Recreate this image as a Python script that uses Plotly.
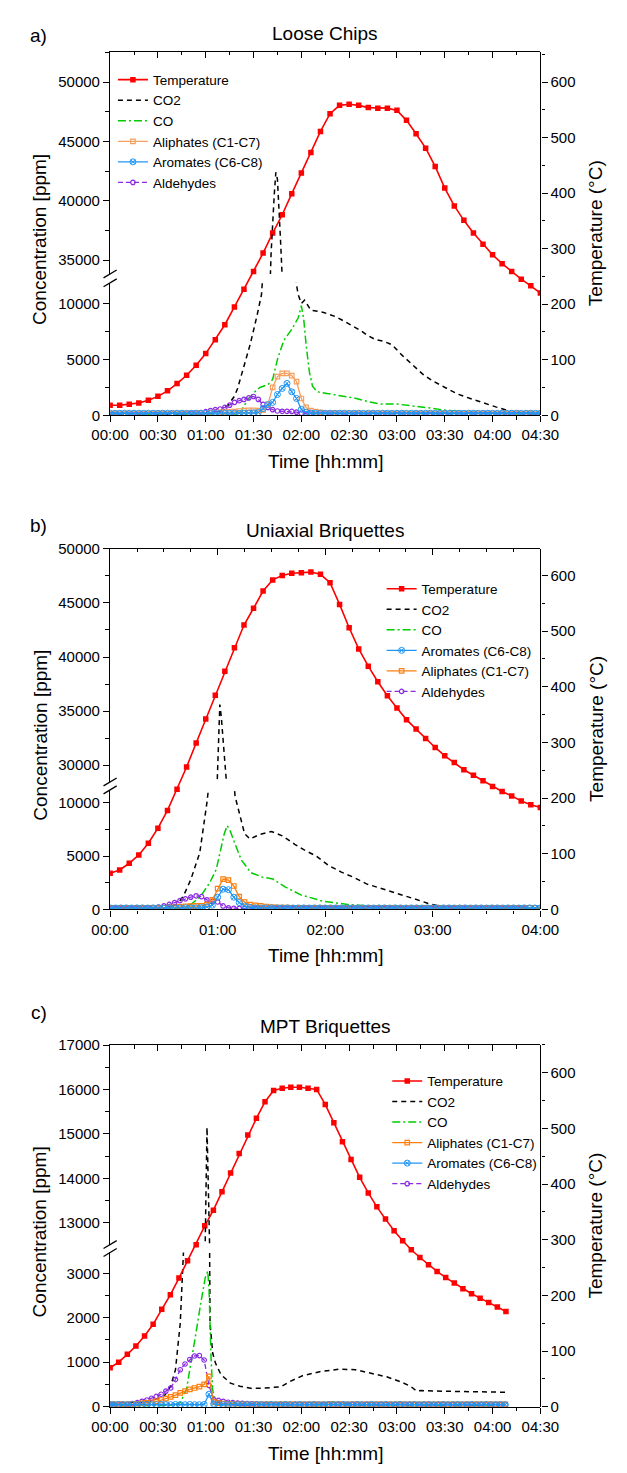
import plotly.graph_objects as go

W, H = 627, 1473
FONT = "Liberation Sans, Arial, Helvetica, sans-serif"


def px(x):
    return x / W


def py(y):
    return 1 - y / H


# ---------------- Panel a: Loose Chips ----------------
a_temp_t = list(range(0, 271, 6))
a_temp = [18, 18, 20, 22, 27, 34, 44, 57, 72, 90, 111, 136, 163, 195, 227, 259, 292, 328, 361, 399,
          436, 473, 511, 543, 558, 560, 558, 554, 553, 553, 549, 531, 507, 481, 448, 409, 377, 351,
          328, 308, 289, 273, 259, 245, 233, 220]
a_co2_t = [0, 30, 60, 66, 70, 74, 78, 80, 84, 88, 92, 95, 97, 99, 101, 103, 104, 105, 106, 107, 108,
           110, 113, 116, 118, 120, 122, 126, 134, 142, 150, 157, 161, 166, 172, 177, 183, 190, 196,
           202, 210, 218, 226, 234, 242, 249, 256, 262, 270]
a_co2 = [100, 100, 130, 200, 450, 900, 1700, 2400, 4300, 6400, 8800, 10800, 15000, 27000, 35500,
         40500, 42400, 41800, 39500, 36500, 33500, 27000, 18500, 12500, 10800, 10000, 10300, 9400,
         9200, 8800, 8200, 7600, 7200, 6800, 6600, 6300, 5400, 4500, 3700, 3100, 2500, 1900, 1500,
         1100, 750, 450, 200, 100, 100]
a_co_t = [0, 60, 78, 82, 86, 90, 94, 99, 102, 105, 109, 114, 118, 120, 121.5, 123, 125, 127, 130,
          136, 141, 146, 153, 161, 170, 180, 187, 199, 211, 225, 244, 270]
a_co = [50, 50, 60, 350, 1300, 2000, 2480, 2740, 3200, 5000, 6700, 7700, 8700, 9800, 8600, 6300,
        3900, 2600, 2100, 1950, 1850, 1700, 1550, 1250, 1000, 1000, 900, 680, 440, 300, 150, 100]
a_grid_t = list(range(0, 271, 3))
a_aliph = [150, 160, 150, 150, 160, 150, 150, 160, 150, 150, 160, 150, 150, 160, 150, 160,
           170, 180, 190, 200, 210, 220, 230, 250, 280, 300, 330,
           380, 420, 440, 430, 420, 450,
           970, 2500, 3450, 3750, 3750, 3550, 3000, 1500, 700, 420, 330,
           250, 220, 200, 190, 180, 170, 170, 160, 160, 150,
           150, 160, 150, 150, 160, 150, 150, 160, 150, 150, 160, 150, 150, 160, 150, 150, 160, 150,
           150, 160, 150, 150, 160, 150, 150, 160, 150, 150, 160, 150, 150, 160, 150, 150, 160, 150,
           150]
a_arom = [180, 170, 180, 180, 170, 180, 180, 170, 180, 180, 170, 180, 180, 170, 180, 180, 170, 180,
          180, 170, 180, 180, 170, 180, 180, 170, 180, 180, 190, 200, 220,
          250, 600, 950, 1150, 1860, 2400, 2850, 2100, 1500, 530, 270, 200,
          190, 180, 170,
          180, 170, 180, 180, 170, 180, 180, 170, 180, 180, 170, 180, 180, 170, 180,
          180, 170, 180, 180, 170, 180, 180, 170, 180, 180, 170, 180, 180, 170, 180,
          180, 170, 180, 180, 170, 180, 180, 170, 180, 180, 170, 180, 180, 170, 180]
a_ald = [100, 100, 110, 100, 100, 110, 100, 100, 110, 100, 100, 110, 100, 100, 110, 110,
         120, 150, 190, 240, 320, 420, 500, 560, 700, 900, 1150, 1300, 1420, 1550, 1680, 1420, 970,
         700, 500, 380, 350, 350, 340, 280, 180, 130, 110,
         100, 110, 100, 100, 110, 100, 100, 110, 100, 100, 110, 100, 100, 110, 100, 100, 110, 100,
         100, 110, 100, 100, 110, 100, 100, 110, 100, 100, 110, 100, 100, 110, 100, 100, 110, 100,
         100, 110, 100, 100, 110, 100, 100, 110, 100, 100, 110, 100]

# ---------------- Panel b: Uniaxial Briquettes ----------------
b_temp_t = [round(i * 240 / 45, 2) for i in range(46)]
b_temp = [65, 71, 83, 98, 119, 146, 178, 216, 256, 299, 342, 385, 428, 470, 511, 541, 572, 592, 600,
          604, 605, 606, 602, 587, 548, 506, 468, 437, 409, 384, 362, 341, 324, 307, 291, 276, 264,
          251, 241, 231, 221, 212, 204, 195, 188, 183]
b_co2_t = [0, 30, 34, 38, 41, 45, 50, 54, 56, 58, 59.5, 60.5, 61.2, 62, 62.8, 63.5, 64.3, 66, 68,
           69.7, 72.3, 75, 78, 83, 90, 96, 103, 108, 115, 122, 129, 136, 143, 150, 160, 170, 179,
           186, 191, 200, 240]
b_co2 = [100, 100, 200, 600, 1300, 2800, 5300, 10000, 13000, 20000, 27500, 32500, 35600, 34500,
         32500, 30300, 28400, 20000, 14000, 10600, 8800, 7100, 6600, 7000, 7300, 6900, 6100, 5600,
         5000, 4100, 3500, 3000, 2400, 2000, 1500, 980, 480, 240, 100, 80, 80]
b_co_t = [0, 35, 42, 45, 50.5, 55.7, 59.2, 61.8, 63.6, 65.3, 67, 69.7, 73.2, 78.5, 85.4, 90.7, 97.6,
          106.4, 118.6, 132.6, 143, 160, 180, 240]
b_co = [50, 60, 200, 470, 1220, 2560, 3750, 5540, 7050, 7850, 7350, 6130, 4640, 3450, 3010, 2860,
        2110, 1370, 780, 470, 330, 150, 80, 60]
b_grid_t = list(range(0, 241, 3))
b_aliph = [150, 160, 150, 150, 160, 150, 150, 160, 150, 150, 160, 170,
           200, 250, 300, 320, 330, 350, 450,
           900, 1950, 2850, 2750, 2200, 1200, 700, 450, 380, 330,
           280, 230, 200, 180, 170, 160,
           150, 160, 150, 150, 160, 150, 150, 160, 150, 150, 160, 150, 150, 160, 150,
           150, 160, 150, 150, 160, 150, 150, 160, 150, 150, 160, 150, 150, 160, 150,
           150, 160, 150, 150, 160, 150, 150, 160, 150, 150, 160, 150, 150, 160, 150, 150]
b_arom = [150, 140, 150, 150, 140, 150, 150, 140, 150, 150, 140, 150, 150, 140, 150, 150, 160, 180, 250,
          400, 1150, 1900, 1850, 1150, 650, 330, 200,
          150, 140, 150, 150, 140, 150, 150, 140, 150, 150, 140, 150, 150, 140, 150, 150, 140, 150,
          150, 140, 150, 150, 140, 150, 150, 140, 150, 150, 140, 150, 150, 140, 150, 150, 140, 150,
          150, 140, 150, 150, 140, 150, 150, 140, 150, 150, 140, 150, 150, 140, 150, 150, 140, 150]
b_ald = [100, 100, 100, 100, 110, 110, 120, 130,
         150, 220, 330, 470, 650, 830, 1000, 1150, 1280, 1200, 900, 750, 700, 330, 150, 110,
         100, 110, 100, 100, 110, 100, 100, 110, 100, 100, 110, 100, 100, 110, 100, 100, 110, 100, 100,
         110, 100, 100, 110, 100, 100, 110, 100, 100, 110, 100, 100, 110, 100, 100, 110, 100, 100,
         110, 100, 100, 110, 100, 100, 110, 100, 100, 110, 100, 100, 110, 100, 100, 110, 100]

# ---------------- Panel c: MPT Briquettes ----------------
c_temp_t = [round(i * 5.4, 1) for i in range(46)] + [248.4]
c_temp = [70, 80, 94, 109, 127, 148, 175, 201, 231, 262, 291, 325, 353, 386, 420, 455, 488, 518, 548,
          568, 572, 574, 574, 572, 570, 543, 510, 476, 444, 412, 384, 359, 337, 316, 298, 282, 268,
          255, 243, 232, 222, 212, 203, 195, 187, 179, 171]
c_co2_t = [0, 10, 20, 26, 30, 34, 38, 41, 44, 46, 47.6, 50, 55, 59, 60.3, 60.8, 61.2, 61.6, 62.2,
           62.7, 64.4, 66.1, 69.6, 75.5, 81.4, 89, 97, 103, 107, 113, 121, 132, 144, 154, 164, 174,
           183, 188.5, 192.4, 195.3, 205, 225, 248]
c_co2 = [90, 100, 100, 130, 180, 240, 460, 830, 1870, 2830, 3500, 5000, 7000, 11000, 14000, 15150,
         14500, 9000, 4000, 1870, 1200, 980, 720, 530, 460, 410, 420, 430, 445, 570, 700, 790, 845,
         830, 755, 667, 550, 460, 350, 363, 350, 333, 325]
c_co_t = [0, 30, 40, 44, 47.9, 50.9, 53.8, 56.8, 59.7, 61.3, 62.1, 63.3, 64.3, 65.6, 70, 130, 136,
          141, 146, 152, 200, 248]
c_co = [20, 20, 40, 90, 385, 980, 1640, 2310, 2900, 3050, 2600, 1130, 385, 160, 60, 40, 90, 110, 90,
        40, 30, 30]
c_grid_t = [0] + list(range(2, 249, 3))
c_aliph = [50,
           50, 50, 55, 55, 60, 65, 75, 85, 100, 120, 150, 180, 220, 260, 310, 350, 390, 420, 450, 500,
           680,
           110, 80, 70, 65, 60, 60, 55, 55, 55, 55,
           50, 55, 50, 50, 55, 50, 50, 55, 50, 50, 55, 50, 50, 55, 50, 50, 55, 50,
           50, 55, 50, 50, 55, 50, 50, 55, 50, 50, 55, 50, 50, 55, 50, 50, 55, 50,
           50, 55, 50, 50, 55, 50, 50, 55, 50, 50, 55, 50, 50, 55, 50, 50]
c_arom = [45,
          45, 50, 45, 45, 50, 45, 45, 50, 45, 45, 50, 45, 45, 50, 45, 45, 50, 45, 45, 50,
          280,
          60, 50,
          45, 50, 45, 45, 50, 45, 45, 50, 45, 45, 50, 45, 45, 50, 45, 45, 50, 45, 45, 50,
          45, 45, 50, 45, 45, 50, 45, 45, 50, 45, 45, 50, 45, 45, 50, 45, 45, 50, 45, 45,
          50, 45, 45, 50, 45, 45, 50, 45, 45, 50, 45, 45, 50, 45, 45, 50, 45, 45, 50, 45]
c_ald = [30,
         30, 35, 45, 55, 70, 90, 120, 150, 190, 230, 280, 350, 420, 610, 830, 960, 1060, 1140, 1150, 1050,
         480,
         160, 140, 120, 100, 90, 80, 75, 70, 65, 60, 55, 50,
         45, 40, 45, 45, 40, 45, 45, 40, 45, 45, 40, 45, 45, 40, 45, 45, 40, 45,
         45, 40, 45, 45, 40, 45, 45, 40, 45, 45, 40, 45, 45, 40, 45, 45, 40, 45,
         45, 40, 45, 45, 40, 45, 45, 40, 45, 45, 40, 45, 45, 40]

# ---------------- labels ----------------
panel_titles = ["Loose Chips", "Uniaxial Briquettes", "MPT Briquettes"]
panel_tags = ["a)", "b)", "c)"]
legend_orders = [
    ["Temperature", "CO2", "CO", "Aliphates (C1-C7)", "Aromates (C6-C8)", "Aldehydes"],
    ["Temperature", "CO2", "CO", "Aromates (C6-C8)", "Aliphates (C1-C7)", "Aldehydes"],
    ["Temperature", "CO2", "CO", "Aliphates (C1-C7)", "Aromates (C6-C8)", "Aldehydes"],
]

data = [
    dict(tt=a_temp_t, temp=a_temp, c2t=a_co2_t, c2=a_co2, cot=a_co_t, co=a_co, g=a_grid_t,
         ali=a_aliph, aro=a_arom, ald=a_ald),
    dict(tt=b_temp_t, temp=b_temp, c2t=b_co2_t, c2=b_co2, cot=b_co_t, co=b_co, g=b_grid_t,
         ali=b_aliph, aro=b_arom, ald=b_ald),
    dict(tt=c_temp_t, temp=c_temp, c2t=c_co2_t, c2=c_co2, cot=c_co_t, co=c_co, g=c_grid_t,
         ali=c_aliph, aro=c_arom, ald=c_ald),
]

geo = [
    dict(top=43, ubot=268, ltop=277, bot=411, urange=[33830, 52580], lrange=[0, 11850], dt=5000,
         trange=[0, 655], xmax=270, xstep=30, leg=(100, 56), tag_y=27, title_y=25,
         ali_col="#F5A060"),
    dict(top=546, ubot=782, ltop=790, bot=911, urange=[28450, 50010], lrange=[0, 11200], dt=5000,
         trange=[0, 648], xmax=240, xstep=60, leg=(386, 571), tag_y=523, title_y=528,
         ali_col="#FF7F0E"),
    dict(top=1048, ubot=1250, ltop=1258, bot=1414, urange=[12510, 17005], lrange=[0, 3467], dt=1000,
         trange=[0, 650], xmax=270, xstep=30, leg=(392, 1069), tag_y=1015, title_y=1029,
         ali_col="#FF7F0E"),
]

C_TEMP = "#FF0000"
C_CO2 = "#000000"
C_CO = "#00CC00"
C_ARO = "#2196F3"
C_ALD = "#8A2BE2"
XL, XR = 97, 555


def r(p, n):
    return p if n == 1 else f"{p}{n}"


def an(p, n):
    return f"{p}axis" if n == 1 else f"{p}axis{n}"


fig = go.Figure()
layout = {}
annotations = []
shapes = []
tickfont = dict(family=FONT, size=15, color="black")
TXT = dict(family=FONT, size=19, color="black")

for i in range(3):
    d, g = data[i], geo[i]
    xb, xt = 2 * i + 1, 2 * i + 2
    yl, yu, yt = 3 * i + 1, 3 * i + 2, 3 * i + 3
    leg = "legend" if i == 0 else f"legend{i + 1}"
    rank = {n: k + 1 for k, n in enumerate(legend_orders[i])}
    XB, XT, YL, YU, YT = r("x", xb), r("x", xt), r("y", yl), r("y", yu), r("y", yt)

    fig.add_trace(go.Scatter(x=d["c2t"], y=d["c2"], name="CO2", mode="lines", xaxis=XB, yaxis=YL,
                             line=dict(color=C_CO2, width=1.5, dash="5px,4px"), legend=leg,
                             legendrank=rank["CO2"]))
    fig.add_trace(go.Scatter(x=d["c2t"], y=d["c2"], name="CO2", mode="lines", xaxis=XT, yaxis=YU,
                             line=dict(color=C_CO2, width=1.5, dash="5px,4px"), showlegend=False,
                             legend=leg))
    fig.add_trace(go.Scatter(x=d["cot"], y=d["co"], name="CO", mode="lines", xaxis=XB, yaxis=YL,
                             line=dict(color=C_CO, width=1.5, dash="8px,3px,2px,3px"), legend=leg,
                             legendrank=rank["CO"]))
    fig.add_trace(go.Scatter(x=d["g"], y=d["ald"], name="Aldehydes", mode="lines+markers",
                             xaxis=XB, yaxis=YL, line=dict(color=C_ALD, width=1.3, dash="5px,3px"),
                             marker=dict(symbol="circle-open", size=4.5, color=C_ALD,
                                         line=dict(width=1.2)),
                             legend=leg, legendrank=rank["Aldehydes"]))
    fig.add_trace(go.Scatter(x=d["g"], y=d["ali"], name="Aliphates (C1-C7)", mode="lines+markers",
                             xaxis=XB, yaxis=YL, line=dict(color=g["ali_col"], width=1.3),
                             marker=dict(symbol="square-open", size=4.5, color=g["ali_col"],
                                         line=dict(width=1.2)),
                             legend=leg, legendrank=rank["Aliphates (C1-C7)"]))
    fig.add_trace(go.Scatter(x=d["g"], y=d["aro"], name="Aromates (C6-C8)", mode="lines+markers",
                             xaxis=XB, yaxis=YL, line=dict(color=C_ARO, width=1.3),
                             marker=dict(symbol="circle-x-open", size=6, color=C_ARO,
                                         line=dict(width=1)),
                             legend=leg, legendrank=rank["Aromates (C6-C8)"]))
    fig.add_trace(go.Scatter(x=d["tt"], y=d["temp"], name="Temperature", mode="lines+markers",
                             xaxis=XB, yaxis=YT, line=dict(color=C_TEMP, width=1.6),
                             marker=dict(symbol="square", size=5.5, color=C_TEMP),
                             legend=leg, legendrank=rank["Temperature"]))

    tv = list(range(0, g["xmax"] + 1, g["xstep"]))
    tt = [f"{m // 60:02d}:{m % 60:02d}" for m in tv]
    xdom = [px(XL), px(XR)]
    common = dict(showgrid=False, zeroline=False, showline=True, linecolor="black", linewidth=1.3,
                  tickcolor="black", tickwidth=1.2, tickfont=tickfont)

    def mnr(ticks, dt):
        return dict(ticks=ticks, ticklen=3.5, tickwidth=1, tick0=0, dtick=dt, tickcolor="black",
                    showgrid=False)

    layout[an("x", xb)] = dict(domain=xdom, anchor=YL, range=[0, g["xmax"]], tickmode="array",
                               tickvals=tv, ticktext=tt, ticks="outside", ticklen=6,
                               minor=mnr("outside", 15), **common)
    layout[an("x", xt)] = dict(domain=xdom, anchor=YU, side="top", range=[0, g["xmax"]],
                               tickmode="array", tickvals=tv, ticks="inside", ticklen=6,
                               showticklabels=False, minor=mnr("inside", 15), **common)
    layout[an("y", yl)] = dict(domain=[py(g["bot"]), py(g["ltop"])], anchor=XB, range=g["lrange"],
                               tickmode="linear", tick0=0, dtick=g["dt"], tickformat="d",
                               ticks="outside", ticklen=6, minor=mnr("outside", g["dt"] / 2),
                               **common)
    layout[an("y", yu)] = dict(domain=[py(g["ubot"]), py(g["top"])], anchor=XT, range=g["urange"],
                               tickmode="linear", tick0=0, dtick=g["dt"], tickformat="d",
                               ticks="outside", ticklen=6, minor=mnr("outside", g["dt"] / 2),
                               **common)
    layout[an("y", yt)] = dict(domain=[py(g["bot"]), py(g["top"])], anchor=XB, side="right",
                               range=g["trange"], tickmode="linear", tick0=0, dtick=100,
                               tickformat="d", ticks="outside", ticklen=6,
                               minor=mnr("outside", 50), **common)
    layout[leg] = dict(x=px(g["leg"][0]), y=py(g["leg"][1]), xanchor="left", yanchor="top",
                       bgcolor="rgba(0,0,0,0)", borderwidth=0, tracegroupgap=0,
                       font=dict(family=FONT, size=13.5, color="black"))

    mid = (g["top"] + g["bot"]) / 2
    base = dict(xref="paper", yref="paper", showarrow=False, xanchor="center", yanchor="middle",
                font=TXT)
    annotations += [
        dict(text=panel_tags[i], x=px(21), y=py(g["tag_y"]), **base),
        dict(text=panel_titles[i], x=px((XL + XR) / 2), y=py(g["title_y"]), **base),
        dict(text="Concentration [ppm]", x=px(22), y=py(mid + 6), textangle=-90, **base),
        dict(text="Temperature (°C)", x=px(614), y=py(mid), textangle=-90, **base),
        dict(text="Time [hh:mm]", x=px((XL + XR) / 2), y=py(g["bot"] + 47), **base),
    ]
    for yb in (g["ubot"], g["ltop"]):
        shapes.append(dict(type="line", xref="paper", yref="paper", x0=px(90), y0=py(yb + 4),
                           x1=px(104), y1=py(yb - 4), line=dict(color="black", width=1.3)))

fig.update_layout(
    width=W, height=H, margin=dict(l=0, r=0, t=0, b=0),
    paper_bgcolor="white", plot_bgcolor="rgba(0,0,0,0)",
    font=dict(family=FONT, size=15, color="black"),
    annotations=annotations, shapes=shapes, showlegend=True,
    **layout,
)

fig.write_html("out.html", config={"displayModeBar": False},
               post_script="document.body.style.margin='0';document.body.style.padding='0';")
